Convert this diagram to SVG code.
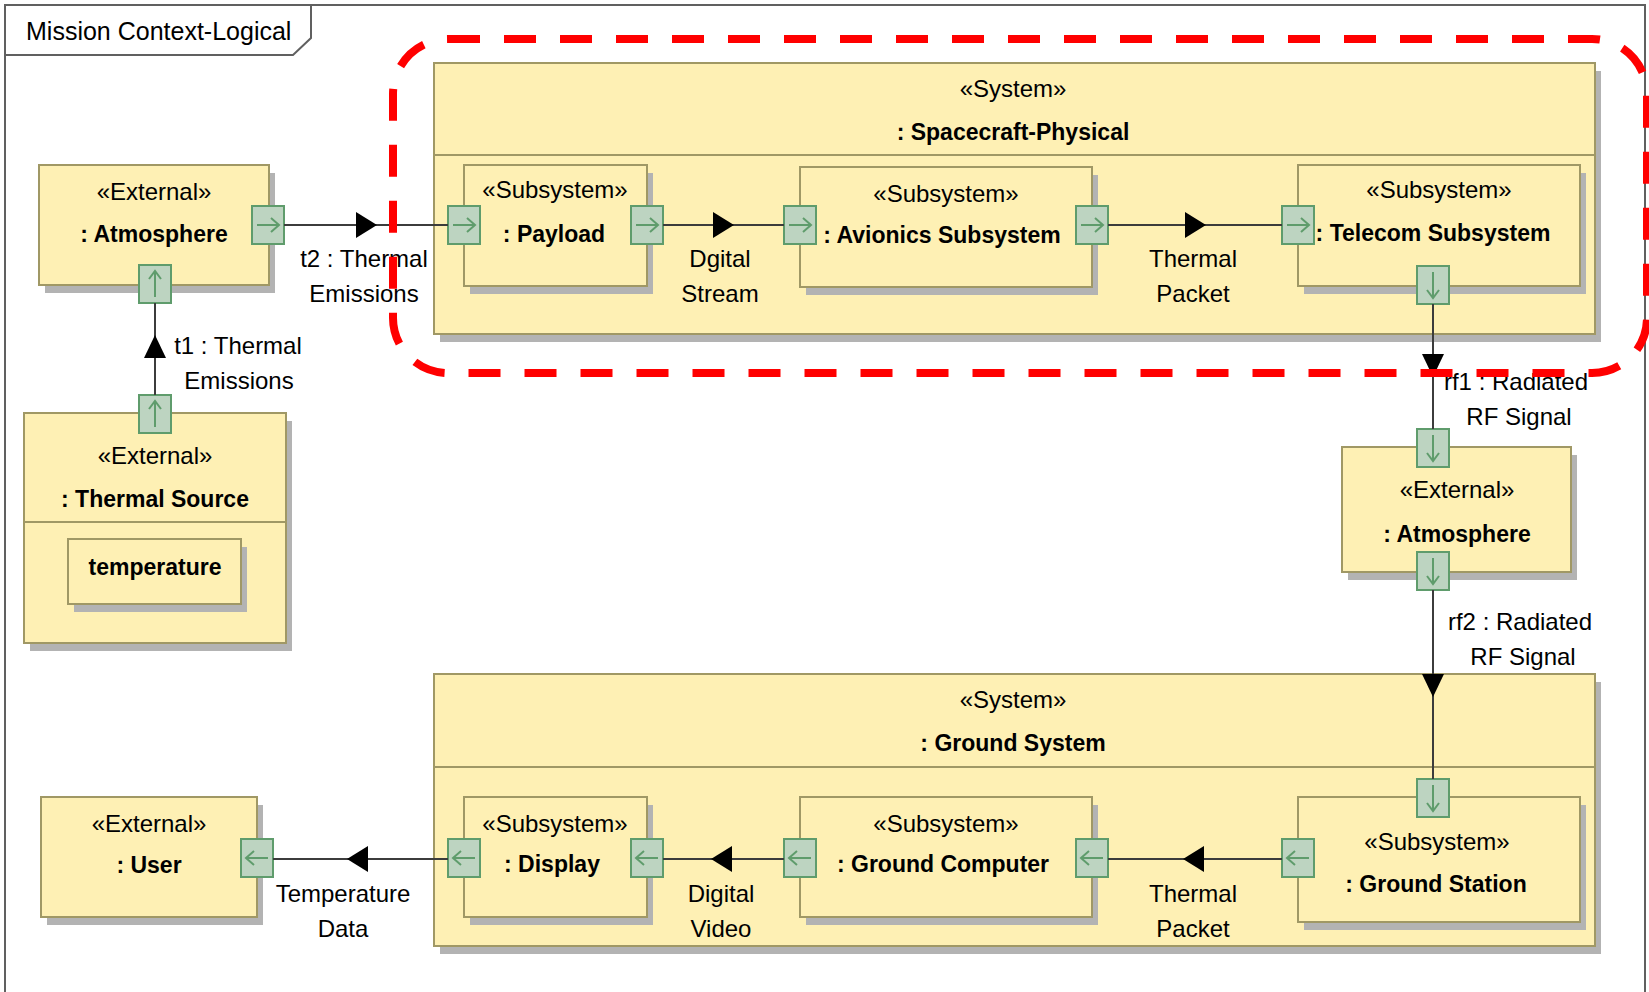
<svg xmlns="http://www.w3.org/2000/svg" width="1649" height="992" viewBox="0 0 1649 992">
<style>
.box{fill:#fef0b4;stroke:#a09865;stroke-width:2}
.sh{fill:#b3b3b3}
.prt rect{fill:#bdd4c1;stroke:#5f9c6c;stroke-width:2}
.prt path{fill:none;stroke:#5f9c6c;stroke-width:2}
text{font-family:"Liberation Sans",Arial,sans-serif;font-size:24px;text-anchor:middle;fill:#000}
.nm{font-weight:bold;font-size:23px}
.conn{stroke:#3c3c3c;stroke-width:2;fill:none}
.ah{fill:#000}
.frame{fill:#fff;stroke:#606060;stroke-width:2}
.hl{fill:none;stroke:#ff0000;stroke-width:8;stroke-dasharray:32 24}
</style>
<defs>
<g id="pR" class="prt"><rect x="-16" y="-19" width="32" height="38"/><path d="M-11,0 H11 M3,-7 L11,0 L3,7"/></g>
<g id="pL" class="prt"><rect x="-16" y="-19" width="32" height="38"/><path d="M11,0 H-11 M-3,-7 L-11,0 L-3,7"/></g>
<g id="pD" class="prt"><rect x="-16" y="-19" width="32" height="38"/><path d="M0,-13 V13 M-6,5 L0,13 L6,5"/></g>
<g id="pU" class="prt"><rect x="-16" y="-19" width="32" height="38"/><path d="M0,13 V-13 M-6,-5 L0,-13 L6,-5"/></g>
</defs>
<rect x="0" y="0" width="1649" height="992" fill="#fff"/>
<g id="frame">
<rect class="frame" x="5" y="5" width="1640" height="1010"/>
<path class="frame" d="M5,5 H311 V38 L293,55 H5 Z"/>
<text x="26" y="40" style="text-anchor:start;font-size:25px">Mission Context-Logical</text>
</g>

<g id="atmosphere1">
<rect class="sh" x="45" y="173" width="230" height="120"/>
<rect class="box" x="39" y="165" width="230" height="120"/>
<text x="154" y="200">«External»</text>
<text class="nm" x="154" y="242">: Atmosphere</text>
<use href="#pR" x="268" y="225"/>
<use href="#pU" x="155" y="284"/>
</g>

<g id="thermalSource">
<rect class="sh" x="30" y="421" width="262" height="230"/>
<rect class="box" x="24" y="413" width="262" height="230"/>
<line x1="24" y1="522" x2="286" y2="522" stroke="#a09865" stroke-width="2"/>
<text x="155" y="464">«External»</text>
<text class="nm" x="155" y="507">: Thermal Source</text>
<g id="temperature">
<rect class="sh" x="74" y="547" width="173" height="65"/>
<rect class="box" x="68" y="539" width="173" height="65"/>
<text class="nm" x="155" y="575">temperature</text>
</g>
<use href="#pU" x="155" y="414"/>
</g>

<g id="user">
<rect class="sh" x="47" y="805" width="216" height="120"/>
<rect class="box" x="41" y="797" width="216" height="120"/>
<text x="149" y="832">«External»</text>
<text class="nm" x="149" y="873">: User</text>
<use href="#pL" x="257" y="858"/>
</g>

<g id="spacecraft">
<rect class="sh" x="440" y="71" width="1161" height="271"/>
<rect class="box" x="434" y="63" width="1161" height="271"/>
<line x1="434" y1="155" x2="1595" y2="155" stroke="#a09865" stroke-width="2"/>
<text x="1013" y="97">«System»</text>
<text class="nm" x="1013" y="140">: Spacecraft-Physical</text>
<g id="payload">
<rect class="sh" x="470" y="173" width="183" height="121"/>
<rect class="box" x="464" y="165" width="183" height="121"/>
<text x="555" y="198">«Subsystem»</text>
<text class="nm" x="554" y="242">: Payload</text>
<use href="#pR" x="464" y="225"/>
<use href="#pR" x="647" y="225"/>
</g>
<g id="avionics">
<rect class="sh" x="806" y="175" width="292" height="120"/>
<rect class="box" x="800" y="167" width="292" height="120"/>
<text x="946" y="202">«Subsystem»</text>
<text class="nm" x="942" y="243">: Avionics Subsystem</text>
<use href="#pR" x="800" y="225"/>
<use href="#pR" x="1092" y="225"/>
</g>
<g id="telecom">
<rect class="sh" x="1304" y="173" width="282" height="121"/>
<rect class="box" x="1298" y="165" width="282" height="121"/>
<text x="1439" y="198">«Subsystem»</text>
<text class="nm" x="1433" y="241">: Telecom Subsystem</text>
<use href="#pR" x="1298" y="225"/>
<use href="#pD" x="1433" y="285"/>
</g>
</g>

<g id="atmosphere2">
<rect class="sh" x="1348" y="455" width="229" height="125"/>
<rect class="box" x="1342" y="447" width="229" height="125"/>
<text x="1457" y="498">«External»</text>
<text class="nm" x="1457" y="542">: Atmosphere</text>
<use href="#pD" x="1433" y="448"/>
<use href="#pD" x="1433" y="571"/>
</g>

<g id="groundSystem">
<rect class="sh" x="440" y="682" width="1161" height="272"/>
<rect class="box" x="434" y="674" width="1161" height="272"/>
<line x1="434" y1="767" x2="1595" y2="767" stroke="#a09865" stroke-width="2"/>
<text x="1013" y="708">«System»</text>
<text class="nm" x="1013" y="751">: Ground System</text>
<g id="display">
<rect class="sh" x="470" y="805" width="183" height="120"/>
<rect class="box" x="464" y="797" width="183" height="120"/>
<text x="555" y="832">«Subsystem»</text>
<text class="nm" x="552" y="872">: Display</text>
<use href="#pL" x="464" y="858"/>
<use href="#pL" x="647" y="858"/>
</g>
<g id="groundComputer">
<rect class="sh" x="806" y="805" width="292" height="120"/>
<rect class="box" x="800" y="797" width="292" height="120"/>
<text x="946" y="832">«Subsystem»</text>
<text class="nm" x="943" y="872">: Ground Computer</text>
<use href="#pL" x="800" y="858"/>
<use href="#pL" x="1092" y="858"/>
</g>
<g id="groundStation">
<rect class="sh" x="1304" y="805" width="282" height="125"/>
<rect class="box" x="1298" y="797" width="282" height="125"/>
<text x="1437" y="850">«Subsystem»</text>
<text class="nm" x="1436" y="892">: Ground Station</text>
<use href="#pD" x="1433" y="798"/>
<use href="#pL" x="1298" y="858"/>
</g>
</g>

<g id="connectors">
<line class="conn" x1="284" y1="225" x2="448" y2="225"/>
<polygon class="ah" points="356,212 377,225 356,238"/>
<text x="364" y="267">t2 : Thermal</text>
<text x="364" y="302">Emissions</text>

<line class="conn" x1="663" y1="225" x2="784" y2="225"/>
<polygon class="ah" points="713,212 734,225 713,238"/>
<text x="720" y="267">Dgital</text>
<text x="720" y="302">Stream</text>

<line class="conn" x1="1108" y1="225" x2="1282" y2="225"/>
<polygon class="ah" points="1185,212 1206,225 1185,238"/>
<text x="1193" y="267">Thermal</text>
<text x="1193" y="302">Packet</text>

<line class="conn" x1="155" y1="395" x2="155" y2="303"/>
<polygon class="ah" points="144,358 155,335 166,358"/>
<text x="238" y="354">t1 : Thermal</text>
<text x="239" y="389">Emissions</text>

<line class="conn" x1="1433" y1="304" x2="1433" y2="429"/>
<polygon class="ah" points="1422,354 1433,377 1444,354"/>
<text x="1516" y="390">rf1 : Radiated</text>
<text x="1519" y="425">RF Signal</text>

<line class="conn" x1="1433" y1="590" x2="1433" y2="779"/>
<polygon class="ah" points="1422,674 1433,697 1444,674"/>
<text x="1520" y="630">rf2 : Radiated</text>
<text x="1523" y="665">RF Signal</text>

<line class="conn" x1="1282" y1="859" x2="1108" y2="859"/>
<polygon class="ah" points="1204,846 1183,859 1204,872"/>
<text x="1193" y="902">Thermal</text>
<text x="1193" y="937">Packet</text>

<line class="conn" x1="784" y1="859" x2="663" y2="859"/>
<polygon class="ah" points="732,846 711,859 732,872"/>
<text x="721" y="902">Digital</text>
<text x="721" y="937">Video</text>

<line class="conn" x1="448" y1="859" x2="273" y2="859"/>
<polygon class="ah" points="368,846 347,859 368,872"/>
<text x="343" y="902">Temperature</text>
<text x="343" y="937">Data</text>
</g>

<rect class="hl" x="393" y="39" width="1254" height="334" rx="55" ry="55"/>
</svg>
